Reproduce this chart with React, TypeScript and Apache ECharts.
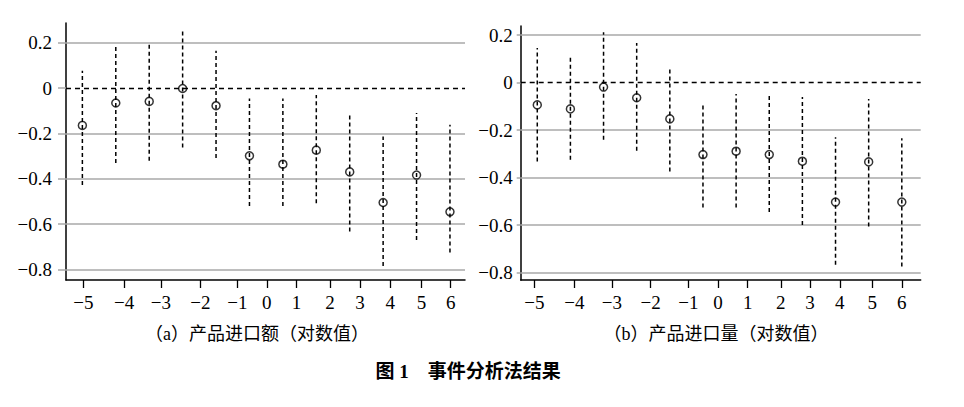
import React, { useEffect, useRef } from "react";
import * as echarts from "echarts";

// event time (periods relative to the event)
const events = [-5, -4, -3, -2, -1, 0, 1, 2, 3, 4, 5, 6];
const tickLabels = ["-5", "-4", "-3", "-2", "-1", "0", "1", "2", "3", "4", "5", "6"];
// where the printed tick labels sit on the event-time scale (as drawn in the figure)
const tickSpotsA = [-4.97, -3.75, -2.65, -1.47, -0.36, 0.52, 1.41, 2.41, 3.31, 4.21, 5.15, 6.02];
const tickSpotsB = [-5.09, -3.88, -2.75, -1.58, -0.44, 0.45, 1.35, 2.35, 3.23, 4.13, 5.11, 6.0];
const yTicks = [0.2, 0, -0.2, -0.4, -0.6, -0.8];

// (a) import value (log)
const coefA = [-0.165, -0.066, -0.059, -0.002, -0.078, -0.299, -0.336, -0.274, -0.37, -0.505, -0.384, -0.546];
const lowA = [-0.428, -0.331, -0.321, -0.262, -0.309, -0.52, -0.52, -0.508, -0.633, -0.785, -0.67, -0.726];
const highA = [0.076, 0.194, 0.195, 0.253, 0.165, -0.046, -0.046, -0.031, -0.11, -0.214, -0.11, -0.162];

// (b) import quantity (log)
const coefB = [-0.094, -0.111, -0.019, -0.064, -0.153, -0.303, -0.289, -0.303, -0.331, -0.503, -0.334, -0.503];
const lowB = [-0.332, -0.325, -0.241, -0.287, -0.374, -0.526, -0.526, -0.545, -0.599, -0.767, -0.606, -0.774];
const highB = [0.145, 0.114, 0.212, 0.166, 0.067, -0.091, -0.048, -0.048, -0.061, -0.23, -0.069, -0.234];

const captionA = "（a）产品进口额（对数值）";
const captionB = "（b）产品进口量（对数值）";
const figureTitle = "图 1　事件分析法结果";

const NUM_FONT = "Liberation Serif";
const CAP_FONT = "Liberation Serif, Noto Sans CJK SC";

const minus = (s: string) => s.replace("-", "\u2212");

function xAxisFor(gridIndex: number, spots: number[], min: number, max: number) {
  return {
    type: "value",
    gridIndex,
    min,
    max,
    axisLine: { show: true, onZero: false, lineStyle: { color: "#000", width: 1.5 } },
    axisTick: { show: true, customValues: spots, length: 8, lineStyle: { color: "#000", width: 1.3 } },
    axisLabel: {
      customValues: spots,
      margin: 13,
      fontSize: 19,
      fontFamily: NUM_FONT,
      color: "#000",
      formatter: (v: number) => {
        let best = 0;
        for (let i = 0; i < spots.length; i++) {
          if (Math.abs(spots[i] - v) < Math.abs(spots[best] - v)) best = i;
        }
        return minus(tickLabels[best]);
      },
    },
    splitLine: { show: false },
  };
}

function yAxisFor(gridIndex: number, min: number, max: number, tickLen: number, margin: number) {
  return {
    type: "value",
    gridIndex,
    min,
    max,
    axisLine: { show: true, onZero: false, lineStyle: { color: "#000", width: 1.5 } },
    axisTick: { show: true, customValues: yTicks, length: tickLen, lineStyle: { color: "#a8a8a8", width: 1.5 } },
    axisLabel: {
      customValues: yTicks,
      margin,
      fontSize: 19,
      fontFamily: NUM_FONT,
      color: "#000",
      formatter: (v: number) => minus(String(Math.round(v * 10) / 10)),
    },
    splitLine: { show: false },
  };
}

function panelSeries(idx: number, coef: number[], low: number[], high: number[]) {
  const gridLines = yTicks
    .filter((v) => v !== 0)
    .map((v) => ({ yAxis: v, lineStyle: { color: "#a8a8a8", width: 1.5, type: "solid" } }));
  const zeroLine = { yAxis: 0, lineStyle: { color: "#000", width: 1.4, type: [5, 4] } };
  return [
    {
      type: "custom",
      xAxisIndex: idx,
      yAxisIndex: idx,
      data: events.map((e, i) => [e, low[i], high[i]]),
      encode: { x: 0, y: [1, 2] },
      renderItem: (_p: any, api: any) => {
        const x = api.value(0);
        const a = api.coord([x, api.value(1)]);
        const b = api.coord([x, api.value(2)]);
        return {
          type: "line",
          shape: { x1: a[0], y1: a[1], x2: b[0], y2: b[1] },
          style: { stroke: "#000", lineWidth: 1.5, lineDash: [4, 3], fill: null },
        };
      },
      z: 3,
      silent: true,
    },
    {
      type: "scatter",
      xAxisIndex: idx,
      yAxisIndex: idx,
      data: events.map((e, i) => [e, coef[i]]),
      symbol: "circle",
      symbolSize: 8,
      itemStyle: { color: "rgba(255,255,255,0)", borderColor: "#000", borderWidth: 1.5 },
      z: 4,
      silent: true,
      markLine: {
        silent: true,
        symbol: ["none", "none"],
        label: { show: false },
        data: [...gridLines, zeroLine],
        z: 2,
      },
    },
  ];
}

export default function App() {
  const ref = useRef<HTMLDivElement>(null);
  useEffect(() => {
    if (!ref.current) return;
    const chart = echarts.init(ref.current, null, { renderer: "svg" });
    chart.setOption({
      animation: false,
      backgroundColor: "#fff",
      grid: [
        { left: 66, top: 23, width: 399, height: 257 },
        { left: 520.7, top: 26, width: 400, height: 254 },
      ],
      xAxis: [xAxisFor(0, tickSpotsA, -5.49, 6.45), xAxisFor(1, tickSpotsB, -5.5, 6.57)],
      yAxis: [yAxisFor(0, -0.847, 0.287, 8, 14), yAxisFor(1, -0.831, 0.238, 4, 8)],
      series: [...panelSeries(0, coefA, lowA, highA), ...panelSeries(1, coefB, lowB, highB)],
      graphic: [
        {
          type: "text",
          x: 257,
          y: 334,
          style: { text: captionA, fontSize: 18, fontFamily: CAP_FONT, fill: "#000", align: "center", verticalAlign: "middle" },
        },
        {
          type: "text",
          x: 716,
          y: 334,
          style: { text: captionB, fontSize: 18, fontFamily: CAP_FONT, fill: "#000", align: "center", verticalAlign: "middle" },
        },
        {
          type: "text",
          x: 468,
          y: 371,
          style: { text: figureTitle, fontSize: 19, fontWeight: "bold", fontFamily: CAP_FONT, fill: "#000", align: "center", verticalAlign: "middle" },
        },
      ],
    });
    return () => chart.dispose();
  }, []);
  return (
    <div
      ref={ref}
      style={{ position: "absolute", left: 0, top: 0, width: 964, height: 407, background: "#fff" }}
    />
  );
}
